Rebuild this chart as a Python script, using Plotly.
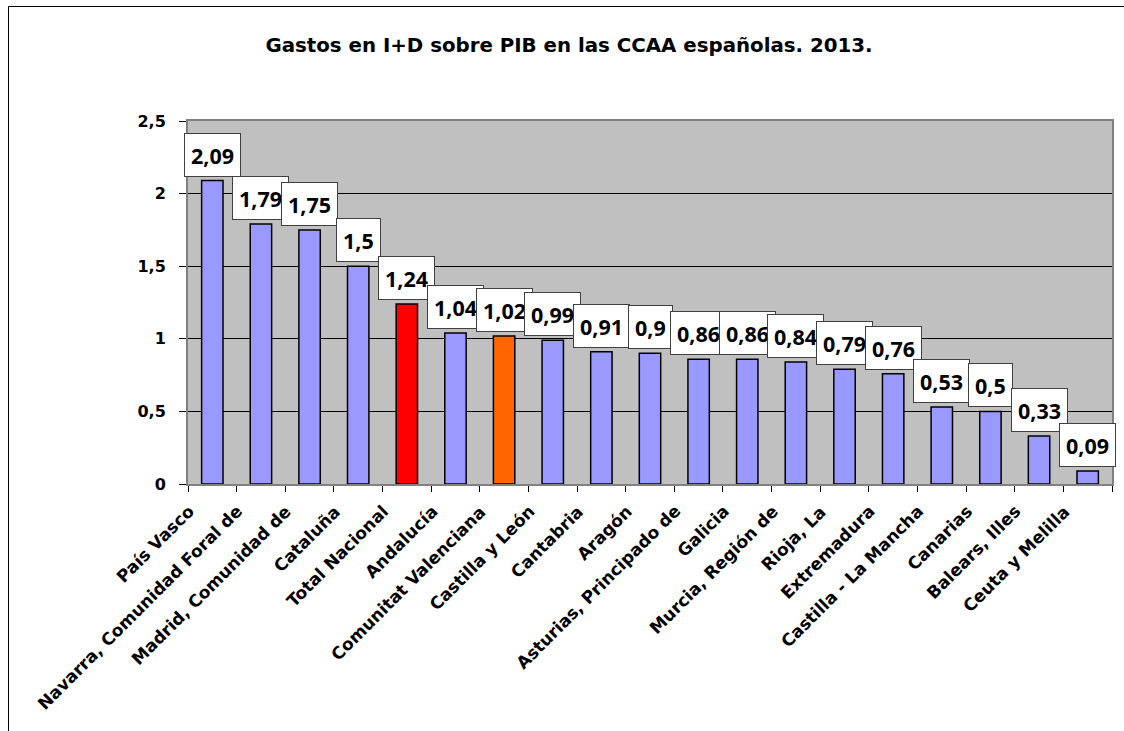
import plotly.graph_objects as go

categories = [
    "País Vasco", "Navarra, Comunidad Foral de", "Madrid, Comunidad de", "Cataluña",
    "Total Nacional", "Andalucía", "Comunitat Valenciana", "Castilla y León",
    "Cantabria", "Aragón", "Asturias, Principado de", "Galicia", "Murcia, Región de",
    "Rioja, La", "Extremadura", "Castilla - La Mancha", "Canarias", "Balears, Illes",
    "Ceuta y Melilla",
]
values = [2.09, 1.79, 1.75, 1.5, 1.24, 1.04, 1.02, 0.99, 0.91, 0.9, 0.86, 0.86,
          0.84, 0.79, 0.76, 0.53, 0.5, 0.33, 0.09]
highlight = {"Total Nacional": "#FF0000", "Comunitat Valenciana": "#FF6600"}
base_color = "#9999FF"
y_ticks = [0, 0.5, 1, 1.5, 2, 2.5]
title_text = "Gastos en I+D sobre PIB en las CCAA españolas. 2013."

W, H = 1124, 731
ML, MR, MT, MB = 188, 12, 121, 247
PW, PH = W - ML - MR, H - MT - MB


def px_x(p):
    return (p - ML) / PW


def px_y(p):
    return (H - MB - p) / PH


colors = [highlight.get(c, base_color) for c in categories]
labels = [f"{v:g}".replace(".", ",") for v in values]

fig = go.Figure()
fig.add_trace(go.Bar(
    x=categories, y=values,
    marker=dict(color=colors, line=dict(color="#000000", width=1.5)),
    hoverinfo="x+y",
))

# category labels (rotated), anchored under each category
for c in categories:
    fig.add_annotation(
        x=c, y=0, xref="x", yref="y", text=c, showarrow=False, textangle=-45,
        xanchor="right", yanchor="top", xshift=-13, yshift=-16, borderpad=0,
        font=dict(family="DejaVu Sans", size=17, color="#000000", weight="bold"),
    )

# value labels in white boxes
for c, v, t in zip(categories, values, labels):
    fig.add_annotation(
        x=c, y=v, text=t, showarrow=False, yanchor="bottom", yshift=4,
        height=30, valign="middle",
        bgcolor="#FFFFFF", bordercolor="#404040", borderwidth=1, borderpad=6,
        font=dict(family="Open Sans", size=21.5, color="#000000", weight="bold"),
    )

# outer chart frame (extends past the right and bottom edges)
fig.add_shape(type="rect", xref="paper", yref="paper",
              x0=px_x(8.5), x1=px_x(W + 20), y0=px_y(H + 20), y1=px_y(6.5),
              line=dict(color="#000000", width=1), fillcolor="rgba(0,0,0,0)", layer="above")

fig.update_layout(
    width=W, height=H,
    margin=dict(l=ML, r=MR, t=MT, b=MB, autoexpand=False),
    paper_bgcolor="#FFFFFF", plot_bgcolor="#C0C0C0",
    separators=",.",
    bargap=0.56,
    showlegend=False,
    title=dict(text=title_text, x=569 / W, xanchor="center", xref="container",
               y=1 - 45 / H, yanchor="middle", yref="container",
               font=dict(family="DejaVu Sans", size=19.8, color="#000000", weight="bold")),
    xaxis=dict(
        type="category", range=[-0.5, len(categories) - 0.5],
        tickson="boundaries", showticklabels=False,
        ticks="outside", ticklen=6, tickcolor="#000000", tickwidth=1,
        showline=True, linecolor="#808080", linewidth=2, mirror=True,
        showgrid=False,
    ),
    yaxis=dict(
        range=[0, 2.5], tickvals=y_ticks,
        ticks="outside", ticklen=7, tickcolor="#000000", tickwidth=1,
        showline=True, linecolor="#808080", linewidth=2, mirror=True,
        showgrid=True, gridcolor="#000000", gridwidth=1, zeroline=False,
        ticklabelstandoff=10,
        tickfont=dict(family="DejaVu Sans", size=16, color="#000000", weight="bold"),
    ),
)

fig.write_html("out.html", config={"displayModeBar": False},
               post_script="document.body.style.margin='0px';")
